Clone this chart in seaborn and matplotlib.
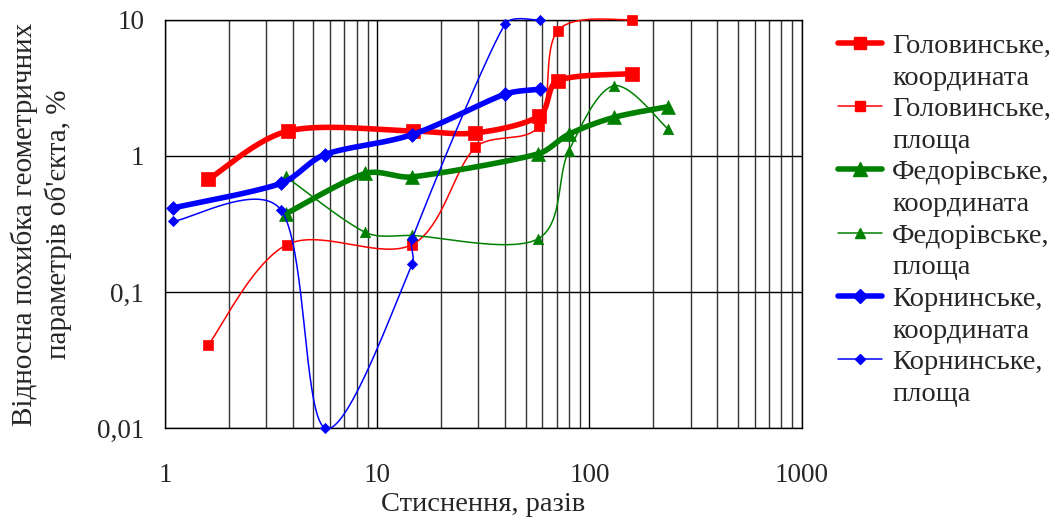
import numpy as np
import matplotlib
matplotlib.use("Agg")
import matplotlib.pyplot as plt
from matplotlib.lines import Line2D
import seaborn as sns

# values (log-log axes)
golov_coord_x = [1.6, 3.8, 14.7, 29, 58, 71, 159]
golov_coord_y = [0.67, 1.52, 1.52, 1.47, 1.96, 3.55, 4.0]

golov_area_x = [1.6, 3.76, 14.6, 29, 58, 71, 159]
golov_area_y = [0.041, 0.223, 0.223, 1.15, 1.66, 8.3, 10.0]

fed_coord_x = [3.7, 8.8, 14.6, 57, 80, 130, 234]
fed_coord_y = [0.374, 0.742, 0.70, 1.03, 1.44, 1.91, 2.29]

fed_area_x = [3.7, 8.8, 14.6, 57, 80, 130, 234]
fed_area_y = [0.705, 0.274, 0.26, 0.245, 1.09, 3.26, 1.58]

korn_coord_x = [1.09, 3.52, 5.66, 14.6, 39.9, 58.6]
korn_coord_y = [0.414, 0.627, 1.02, 1.43, 2.83, 3.08]

korn_area_x = [1.09, 3.52, 5.7, 14.6, 14.6, 39.9, 58.6]
korn_area_y = [0.33, 0.40, 0.01, 0.16, 0.245, 9.2, 9.9]

series_names = ["Головинське,", "Головинське,", "Федорівське,", "Федорівське,",
                "Корнинське,", "Корнинське,"]
series_kinds = ["координата", "площа"] * 3

y_ticks = [0.01, 0.1, 1, 10]
y_tick_labels = ["0,01", "0,1", "1", "10"]
x_ticks = [1, 10, 100, 1000]
x_tick_labels = ["1", "10", "100", "1000"]


def smooth(xs, ys, n=40):
    # Excel-like smoothed line (Catmull-Rom bezier in screen-proportional log space,
    # control arms capped so short segments don't loop)
    p = np.column_stack([np.log10(xs) * 211.7, np.log10(ys) * 136.5])
    p = np.vstack([p[0], p, p[-1]])
    t = np.linspace(0, 1, n)[:, None]
    segs = []
    for i in range(1, len(p) - 2):
        p0, p1, p2, p3 = p[i - 1], p[i], p[i + 1], p[i + 2]
        cap = np.hypot(*(p2 - p1)) / 3
        a1 = (p2 - p0) / 6
        a2 = (p3 - p1) / 6
        l1, l2 = np.hypot(*a1), np.hypot(*a2)
        if l1 > cap:
            a1 = a1 * cap / l1
        if l2 > cap:
            a2 = a2 * cap / l2
        c1, c2 = p1 + a1, p2 - a2
        segs.append((1 - t) ** 3 * p1 + 3 * (1 - t) ** 2 * t * c1
                    + 3 * (1 - t) * t ** 2 * c2 + t ** 3 * p2)
    s = np.vstack(segs)
    return 10 ** (s[:, 0] / 211.7), 10 ** (s[:, 1] / 136.5)


sns.set_style("white")
plt.rcParams["font.family"] = ["Liberation Serif", "DejaVu Serif"]
fs_tick = 19.5
fs_leg = 20.5

fig = plt.figure(figsize=(10.53, 5.18), dpi=100)
ax = fig.add_axes([165 / 1053, 1 - 428.3 / 518, (801.7 - 165) / 1053, (428.3 - 19.5) / 518])
ax.set_xscale("log")
ax.set_yscale("log")

styles = [
    (golov_coord_x, golov_coord_y, "#ff0000", 4.0, "s", 9.5),
    (golov_area_x, golov_area_y, "#ff0000", 1.1, "s", 7.0),
    (fed_coord_x, fed_coord_y, "#008000", 4.0, "^", 10.0),
    (fed_area_x, fed_area_y, "#008000", 1.1, "^", 7.5),
    (korn_coord_x, korn_coord_y, "#0000ff", 4.0, "D", 7.0),
    (korn_area_x, korn_area_y, "#0000ff", 1.1, "D", 5.2),
]

handles, labels = [], []
for i, (xs, ys, col, lw, mk, ms) in enumerate(styles):
    sx, sy = smooth(xs, ys)
    sns.lineplot(x=sx, y=sy, sort=False, estimator=None, color=col, lw=lw,
                 ax=ax, zorder=3 + i, clip_on=False)
    sns.scatterplot(x=xs, y=ys, marker=mk, s=ms ** 2, color=col, edgecolor=col,
                    linewidth=0.5, ax=ax, zorder=3 + i, clip_on=False)
    handles.append(Line2D([], [], color=col, lw=lw, marker=mk, markersize=ms * 0.95,
                          markeredgecolor=col))
    labels.append(series_names[i])
    handles.append(Line2D([], [], linestyle="none"))
    labels.append(series_kinds[i])

ax.set_xlim(1, 1000)
ax.set_ylim(0.01, 10)
ax.set_xticks(x_ticks, x_tick_labels)
ax.set_yticks(y_ticks, y_tick_labels)
ax.yaxis.set_minor_locator(matplotlib.ticker.NullLocator())
ax.grid(which="major", axis="both", color="black", lw=1.0)
ax.grid(which="minor", axis="x", color="#333333", lw=1.0)
ax.tick_params(which="major", direction="out", length=8, width=1, color="black",
               labelsize=fs_tick)
ax.tick_params(axis="x", which="major", pad=17)
ax.tick_params(axis="y", which="major", pad=7)
ax.tick_params(which="minor", length=0)
for sp in ax.spines.values():
    sp.set_color("black")
    sp.set_linewidth(1.0)
ax.set_axisbelow(True)

ax.set_xlabel("Стиснення, разів", fontsize=20.5, labelpad=3)
ax.set_ylabel("Відносна похибка геометричних\nпараметрів об'єкта, %", fontsize=21,
              labelpad=18, linespacing=1.28)

fig.legend(handles, labels, loc="upper left", bbox_to_anchor=(838 / 1053, 1 - 33 / 518),
           frameon=False, fontsize=fs_leg, handlelength=1.55, handletextpad=0.35,
           labelspacing=0.2, borderpad=0, borderaxespad=0)

plt.savefig("out.png", dpi=100)
